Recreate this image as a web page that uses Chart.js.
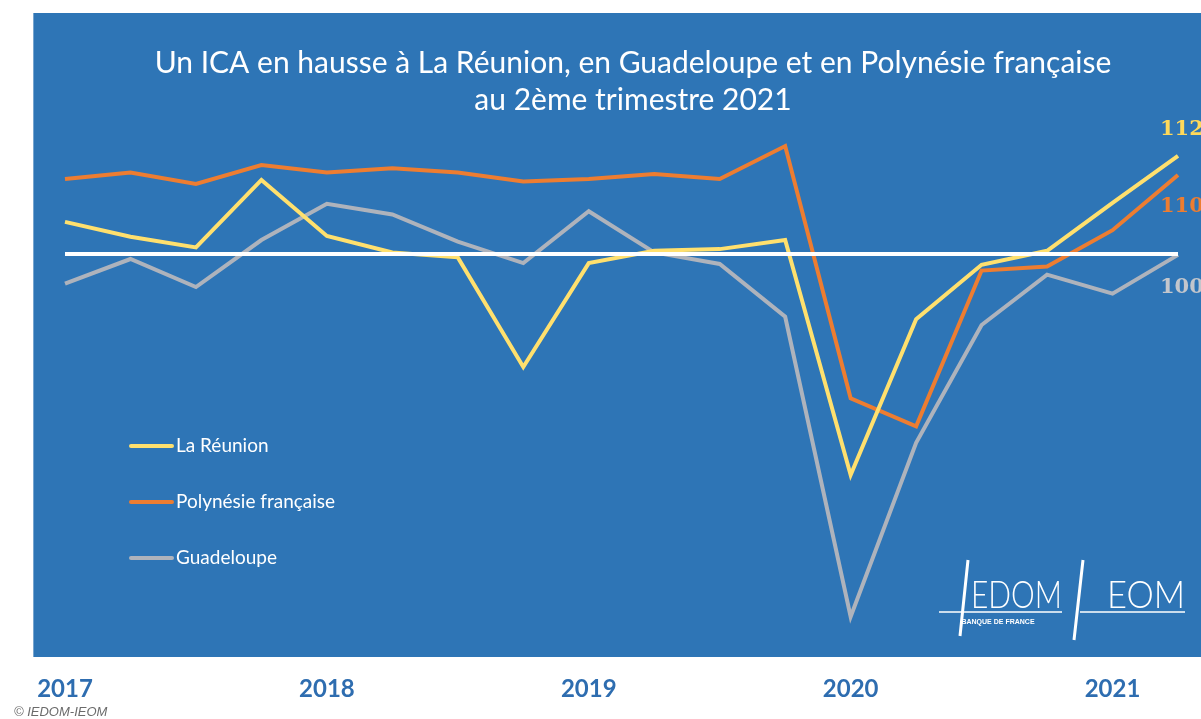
<!DOCTYPE html>
<html lang="fr">
<head>
<meta charset="utf-8">
<title>ICA - IEDOM-IEOM</title>
<script src="https://cdn.jsdelivr.net/npm/chart.js@4.4.1/dist/chart.umd.min.js"></script>
<style>
  html, body { margin: 0; padding: 0; background: #fff; }
  #wrap { position: relative; width: 1201px; height: 719px; }
</style>
</head>
<body>
<div id="wrap"><canvas id="graph"></canvas></div>
<script>
// données (indice, base 100)
const quarters = [
  'T1 2017', 'T2 2017', 'T3 2017', 'T4 2017',
  'T1 2018', 'T2 2018', 'T3 2018', 'T4 2018',
  'T1 2019', 'T2 2019', 'T3 2019', 'T4 2019',
  'T1 2020', 'T2 2020', 'T3 2020', 'T4 2020',
  'T1 2021', 'T2 2021'
]
const yearLabels = ['2017', '2018', '2019', '2020', '2021']

const reunion    = [103.9, 102.1, 100.8, 109.0, 102.2, 100.2, 99.6, 86.3, 98.9, 100.4, 100.6, 101.7, 73.2, 92.1, 98.7, 100.4, 106.2, 111.9]
const polynesie  = [109.1, 109.9, 108.5, 110.8, 109.9, 110.4, 109.9, 108.8, 109.1, 109.7, 109.1, 113.1, 82.5, 79.1, 98.0, 98.5, 102.9, 109.6]
const guadeloupe = [96.4, 99.4, 96.0, 101.7, 106.1, 104.8, 101.5, 98.9, 105.2, 100.2, 98.8, 92.4, 56.0, 77.1, 91.4, 97.5, 95.2, 99.9]
const moyenne    = [100, 100, 100, 100, 100, 100, 100, 100, 100, 100, 100, 100, 100, 100, 100, 100, 100, 100]

const endLabels = ['112', '110', '100']

const titleLines = [
  'Un ICA en hausse à La Réunion, en Guadeloupe et en Polynésie française',
  'au 2ème trimestre 2021'
]

const BLUE = '#2E75B6'
const YELLOW = '#FFE06E'
const ORANGE = '#ED7D31'
const GREY = '#AEB3BC'

// fond bleu du panneau
const panel = {
  id: 'panel',
  beforeDraw(chart) {
    const c = chart.ctx
    c.save()
    c.fillStyle = '#fff'
    c.fillRect(0, 0, chart.width, chart.height)
    c.fillStyle = BLUE
    c.fillRect(33, 13, chart.width - 33, 644)
    c.fillStyle = 'rgba(255,255,255,0.35)'
    c.fillRect(33, 13, 1, 644)
    c.restore()
  }
}

// titre, légende, étiquettes de fin et logos
const decor = {
  id: 'decor',
  afterDraw(chart) {
    const c = chart.ctx
    const y = chart.scales.y
    c.save()

    // titre
    c.fillStyle = '#fff'
    c.textAlign = 'center'
    c.textBaseline = 'middle'
    c.font = '30px Lato'
    c.fillText(titleLines[0], 633, 63)
    c.fillText(titleLines[1], 633, 100)

    // légende
    const series = chart.data.datasets.filter(d => !d.hideInLegend)
    series.forEach((d, i) => {
      const ly = 446 + i * 56
      c.strokeStyle = d.borderColor
      c.lineWidth = 4
      c.lineCap = 'round'
      c.beginPath()
      c.moveTo(131, ly)
      c.lineTo(172, ly)
      c.stroke()
      c.fillStyle = '#fff'
      c.textAlign = 'left'
      c.font = '19px Lato'
      c.fillText(d.label, 176, ly)
    })

    // valeurs de fin de série
    const offsets = [-26, 32, 33]
    c.font = 'bold 21px "DejaVu Serif"'
    c.textAlign = 'left'
    series.forEach((d, i) => {
      const last = d.data[d.data.length - 1]
      c.fillStyle = d.labelColor
      c.fillText(endLabels[i], 1160, y.getPixelForValue(last) + offsets[i])
    })

    // logos
    c.strokeStyle = '#fff'
    c.fillStyle = '#fff'
    c.lineWidth = 1.5
    c.lineCap = 'butt'
    c.beginPath()
    c.moveTo(939, 612); c.lineTo(1062, 612)
    c.moveTo(1080, 612); c.lineTo(1185, 612)
    c.stroke()
    c.lineWidth = 3
    c.beginPath()
    c.moveTo(968, 560); c.lineTo(960, 636)
    c.moveTo(1083, 560); c.lineTo(1074, 640)
    c.stroke()
    c.font = '300 38px Lato'
    c.textBaseline = 'alphabetic'
    const fit = (txt, x0, x1, by) => {
      const w = c.measureText(txt).width
      c.save()
      c.translate(x0, by)
      c.scale((x1 - x0) / w, 1)
      c.fillText(txt, 0, 0)
      c.restore()
    }
    fit('EDOM', 971, 1062, 608)
    fit('EOM', 1107, 1185, 608)
    c.font = 'bold 7px "Liberation Sans"'
    c.textAlign = 'center'
    c.fillText('BANQUE DE FRANCE', 998, 624)

    // source
    c.font = 'italic 13px "Liberation Sans"'
    c.fillStyle = '#6b6b6b'
    c.textAlign = 'left'
    c.textBaseline = 'middle'
    c.fillText('© IEDOM-IEOM', 14, 712)

    c.restore()
  }
}

const data = {
  labels: quarters,
  datasets: [
    { label: 'Moyenne', data: moyenne, borderColor: '#fff', hideInLegend: true },
    { label: 'La Réunion', data: reunion, borderColor: YELLOW, labelColor: '#FFD95A' },
    { label: 'Polynésie française', data: polynesie, borderColor: ORANGE, labelColor: ORANGE },
    { label: 'Guadeloupe', data: guadeloupe, borderColor: GREY, labelColor: '#C3C6CC' }
  ]
}

const config = {
  type: 'line',
  data: data,
  options: {
    responsive: true,
    maintainAspectRatio: false,
    animation: false,
    layout: { padding: { left: 65, right: 23, top: 15, bottom: 0 } },
    elements: {
      line: { borderWidth: 4, tension: 0 },
      point: { radius: 0, hoverRadius: 0 }
    },
    plugins: {
      legend: { display: false },
      tooltip: { enabled: false }
    },
    scales: {
      x: {
        offset: false,
        grid: { display: false, drawTicks: false },
        border: { display: false },
        afterFit: (scale) => { scale.height = 61 },
        ticks: {
          autoSkip: false,
          maxRotation: 0,
          padding: 17,
          color: '#2E6DB0',
          font: { family: 'Lato', weight: 'bold', size: 24 },
          callback: (v, i) => (i % 4 === 0 ? yearLabels[i / 4] : '')
        }
      },
      y: {
        display: false,
        min: 51,
        max: 129
      }
    }
  },
  plugins: [panel, decor]
}

const graph = new Chart(document.getElementById('graph').getContext('2d'), config)
</script>
</body>
</html>
